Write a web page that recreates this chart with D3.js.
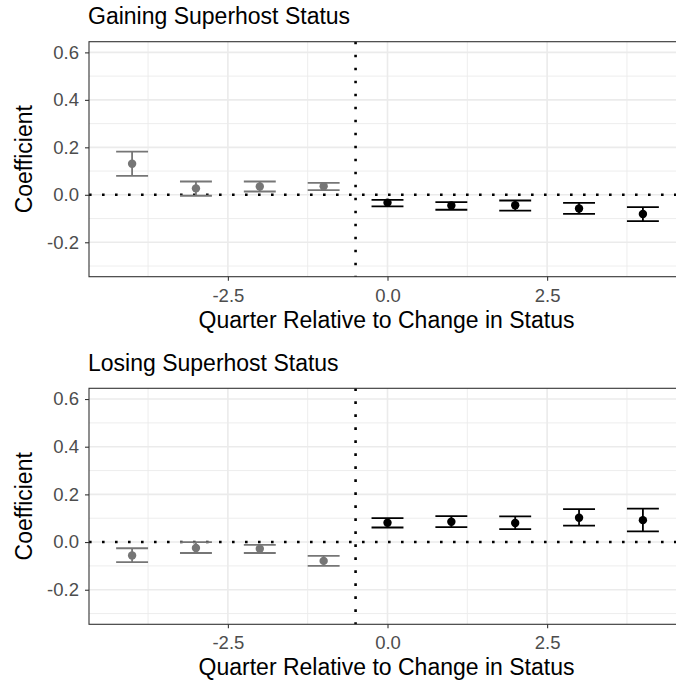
<!DOCTYPE html>
<html>
<head>
<meta charset="utf-8">
<script src="https://cdn.jsdelivr.net/npm/d3@7"></script>
<style>
  body { margin: 0; background: #fff; }
  svg { display: block; font-family: "Liberation Sans", Arial, Helvetica, sans-serif; }
</style>
</head>
<body>
<div id="chart"></div>
<script>
const WIDTH = 676;
const HEIGHT = 683;
const PANEL_LEFT = 89;
const PANEL_RIGHT = 686; // panel runs past the picture edge, as in the original
const PRE_COLOR = "#767676";
const POST_COLOR = "#000000";
const GRID_COLOR = "#ebebeb";

// quarters relative to the change in status
const quarters = [-4, -3, -2, -1, 0, 1, 2, 3, 4];

// gaining superhost status
const gainEst  = [0.131, 0.027, 0.035, 0.036, -0.033, -0.045, -0.044, -0.058, -0.081];
const gainLow  = [0.080, -0.004, 0.014, 0.020, -0.049, -0.063, -0.067, -0.080, -0.111];
const gainHigh = [0.182, 0.056, 0.056, 0.050, -0.021, -0.031, -0.024, -0.034, -0.052];

// losing superhost status
const loseEst  = [-0.056, -0.025, -0.028, -0.079, 0.081, 0.085, 0.080, 0.102, 0.092];
const loseLow  = [-0.084, -0.046, -0.046, -0.100, 0.061, 0.063, 0.054, 0.069, 0.045];
const loseHigh = [-0.026, 0.000, -0.012, -0.058, 0.100, 0.109, 0.108, 0.138, 0.140];

const xTicks = [-2.5, 0, 2.5];
const xMinor = [-3.75, -1.25, 1.25, 3.75];
const yTicks = [-0.2, 0, 0.2, 0.4, 0.6];
const yMinor = [-0.3, -0.1, 0.1, 0.3, 0.5];

const X_DOMAIN = [-4.675, 4.675];
const Y_DOMAIN = [-0.345, 0.645];
const BREAK_AT = -0.5;
const BAR_HALF = 0.25;

const fmt = d => d3.format(".1f")(d).replace("\u2212", "-");

const svg = d3.select("#chart")
  .append("svg")
  .attr("width", WIDTH)
  .attr("height", HEIGHT);

const x = d3.scaleLinear().domain(X_DOMAIN).range([PANEL_LEFT, PANEL_RIGHT]);

function rows(est, low, high) {
  return quarters.map((q, i) => ({ q: q, est: est[i], low: low[i], high: high[i] }));
}

function renderPanel(title, data, top, bottom) {
  const y = d3.scaleLinear().domain(Y_DOMAIN).range([bottom, top]);
  const g = svg.append("g");

  // grid
  g.append("g").selectAll("line")
    .data(yMinor).enter().append("line")
    .attr("x1", PANEL_LEFT).attr("x2", PANEL_RIGHT)
    .attr("y1", d => y(d)).attr("y2", d => y(d))
    .attr("stroke", GRID_COLOR).attr("stroke-width", 0.9);
  g.append("g").selectAll("line")
    .data(xMinor).enter().append("line")
    .attr("y1", top).attr("y2", bottom)
    .attr("x1", d => x(d)).attr("x2", d => x(d))
    .attr("stroke", GRID_COLOR).attr("stroke-width", 0.9);
  g.append("g").selectAll("line")
    .data(yTicks).enter().append("line")
    .attr("x1", PANEL_LEFT).attr("x2", PANEL_RIGHT)
    .attr("y1", d => y(d)).attr("y2", d => y(d))
    .attr("stroke", GRID_COLOR).attr("stroke-width", 1.6);
  g.append("g").selectAll("line")
    .data(xTicks).enter().append("line")
    .attr("y1", top).attr("y2", bottom)
    .attr("x1", d => x(d)).attr("x2", d => x(d))
    .attr("stroke", GRID_COLOR).attr("stroke-width", 1.6);

  // dotted reference lines
  g.append("line")
    .attr("x1", PANEL_LEFT).attr("x2", PANEL_RIGHT)
    .attr("y1", y(0)).attr("y2", y(0))
    .attr("stroke", "#000").attr("stroke-width", 2.6)
    .attr("stroke-dasharray", "2.6,10.4");
  g.append("line")
    .attr("x1", x(BREAK_AT)).attr("x2", x(BREAK_AT))
    .attr("y1", top).attr("y2", bottom)
    .attr("stroke", "#000").attr("stroke-width", 2.6)
    .attr("stroke-dasharray", "2.6,10.4");

  const colorOf = d => d.q < 0 ? PRE_COLOR : POST_COLOR;

  // error bars
  const bars = g.append("g").selectAll("g")
    .data(data).enter().append("g")
    .attr("stroke", colorOf)
    .attr("stroke-width", 1.8);
  bars.append("line")
    .attr("x1", d => x(d.q)).attr("x2", d => x(d.q))
    .attr("y1", d => y(d.low)).attr("y2", d => y(d.high));
  bars.append("line")
    .attr("x1", d => x(d.q - BAR_HALF)).attr("x2", d => x(d.q + BAR_HALF))
    .attr("y1", d => y(d.low)).attr("y2", d => y(d.low));
  bars.append("line")
    .attr("x1", d => x(d.q - BAR_HALF)).attr("x2", d => x(d.q + BAR_HALF))
    .attr("y1", d => y(d.high)).attr("y2", d => y(d.high));

  // points
  g.append("g").selectAll("circle")
    .data(data).enter().append("circle")
    .attr("cx", d => x(d.q))
    .attr("cy", d => y(d.est))
    .attr("r", 4.2)
    .attr("fill", colorOf);

  // panel border
  g.append("rect")
    .attr("x", PANEL_LEFT).attr("y", top)
    .attr("width", PANEL_RIGHT - PANEL_LEFT).attr("height", bottom - top)
    .attr("fill", "none").attr("stroke", "#333").attr("stroke-width", 1.1);

  // axes
  const yAxis = g.append("g")
    .attr("transform", `translate(${PANEL_LEFT},0)`)
    .call(d3.axisLeft(y).tickValues(yTicks).tickSize(4).tickPadding(6).tickFormat(fmt));
  const xAxis = g.append("g")
    .attr("transform", `translate(0,${bottom})`)
    .call(d3.axisBottom(x).tickValues(xTicks).tickSize(4).tickPadding(5).tickFormat(fmt));
  [yAxis, xAxis].forEach(a => {
    a.select(".domain").remove();
    a.selectAll(".tick line").attr("stroke", "#333").attr("stroke-width", 1.1);
    a.selectAll(".tick text")
      .attr("fill", "#4d4d4d")
      .style("font-size", "18.5px")
      .style("font-family", "Liberation Sans, Arial, sans-serif");
  });
  xAxis.selectAll(".tick text").attr("dy", null).attr("y", 25);

  // titles
  g.append("text")
    .attr("x", PANEL_LEFT - 1)
    .attr("y", top - 17.5)
    .attr("font-size", 23)
    .attr("fill", "#000")
    .text(title);
  g.append("text")
    .attr("x", (PANEL_LEFT + PANEL_RIGHT) / 2 - 1)
    .attr("y", bottom + 51)
    .attr("text-anchor", "middle")
    .attr("font-size", 23)
    .attr("fill", "#000")
    .text("Quarter Relative to Change in Status");
  g.append("text")
    .attr("transform", `translate(31.5,${(top + bottom) / 2}) rotate(-90)`)
    .attr("text-anchor", "middle")
    .attr("font-size", 23)
    .attr("fill", "#000")
    .text("Coefficient");
}

renderPanel("Gaining Superhost Status", rows(gainEst, gainLow, gainHigh), 41.7, 276.7);
renderPanel("Losing Superhost Status", rows(loseEst, loseLow, loseHigh), 388.3, 624.3);
</script>
</body>
</html>
